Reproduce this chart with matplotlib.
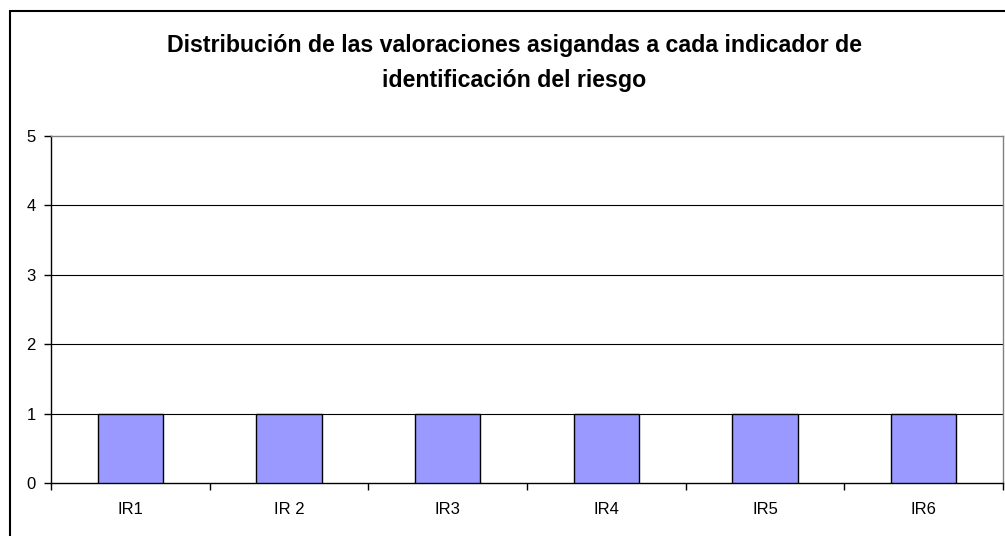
import matplotlib.pyplot as plt
from matplotlib.patches import Rectangle

categorias = ["IR1", "IR 2", "IR3", "IR4", "IR5", "IR6"]
valores = [1, 1, 1, 1, 1, 1]
titulo = "Distribución de las valoraciones asigandas a cada indicador de\nidentificación del riesgo"

plt.rcParams['font.family'] = ['Liberation Sans', 'DejaVu Sans']

fig = plt.figure(figsize=(10.05, 5.36), dpi=100)
ax = fig.add_axes([51 / 1005, 1 - 483 / 536, (1003 - 51) / 1005, (483 - 136) / 536])

x = list(range(len(categorias)))
ax.bar(x, valores, width=0.41, color='#9999FF', edgecolor='black', linewidth=1, zorder=3)

ax.set_xlim(-0.5, len(categorias) - 0.5)
ax.set_ylim(0, 5)
ax.set_yticks([0, 1, 2, 3, 4, 5])
ax.tick_params(axis='y', direction='out', length=5, width=1, labelsize=12, pad=6)

ax.set_xticks(x)
ax.set_xticklabels(categorias, fontsize=12)
ax.tick_params(axis='x', length=0, pad=14)
ax.set_xticks([i + 0.5 for i in range(-1, len(categorias))], minor=True)
ax.tick_params(axis='x', which='minor', direction='out', length=5, width=1)

for y in [1, 2, 3, 4]:
    ax.axhline(y, color='black', linewidth=0.8, zorder=1)

ax.spines['left'].set_color('black')
ax.spines['bottom'].set_color('black')
ax.spines['top'].set_color('#808080')
ax.spines['right'].set_color('#808080')
for s in ax.spines.values():
    s.set_linewidth(1)

fig.text(514 / 1005, 1 - 63 / 536, titulo, ha='center', va='center',
         fontsize=16.7, fontweight='bold', linespacing=1.65)

# marco exterior (cortado a la derecha y abajo)
fig.patches.append(Rectangle((9.5 / 1005, -0.1), 1.2, 1 - 11 / 536 + 0.1,
                             transform=fig.transFigure, fill=False,
                             edgecolor='black', linewidth=1.5, clip_on=False))

fig.savefig("out.png", dpi=100)
